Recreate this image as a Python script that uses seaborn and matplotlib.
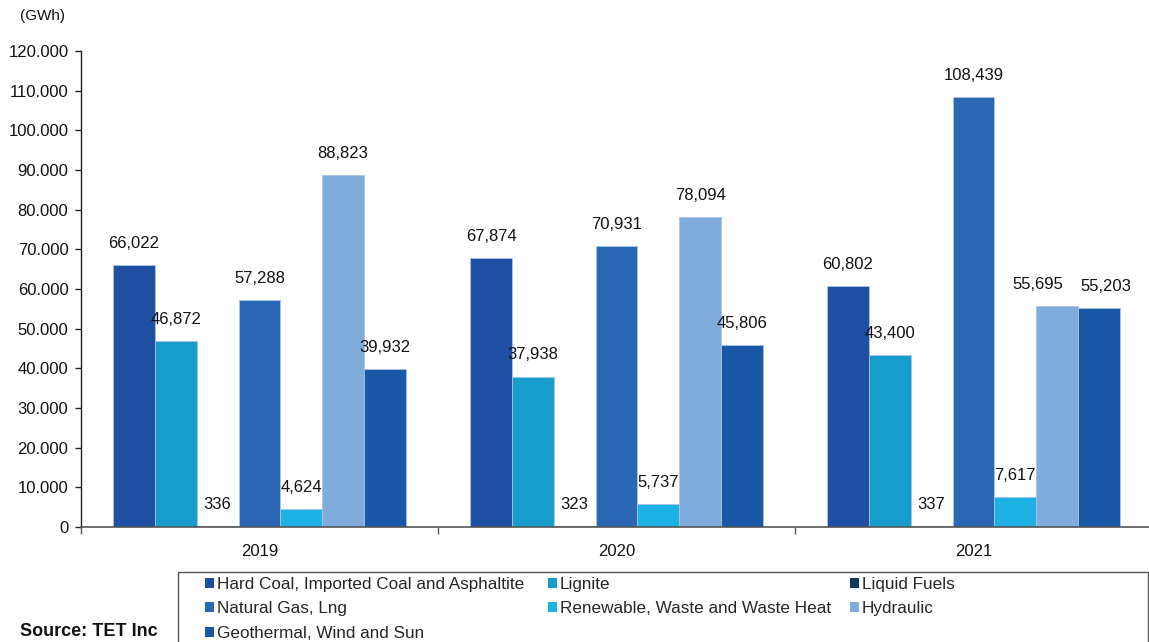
import matplotlib
matplotlib.use("Agg")
import matplotlib.pyplot as plt
from matplotlib.patches import Patch, Rectangle
from matplotlib.ticker import FuncFormatter, FixedLocator
import seaborn as sns
import pandas as pd

years = ["2019", "2020", "2021"]
sources = [
    "Hard Coal, Imported Coal and Asphaltite",
    "Lignite",
    "Liquid Fuels",
    "Natural Gas, Lng",
    "Renewable, Waste and Waste Heat",
    "Hydraulic",
    "Geothermal, Wind and Sun",
]
hard_coal = [66022, 67874, 60802]
lignite = [46872, 37938, 43400]
liquid_fuels = [336, 323, 337]
natural_gas = [57288, 70931, 108439]
renewable = [4624, 5737, 7617]
hydraulic = [88823, 78094, 55695]
geothermal = [39932, 45806, 55203]

colors = ["#1f4fa2", "#169dcc", "#0e3a60", "#2b68b3", "#1db1e4", "#80acdc", "#1957a7"]

series = [hard_coal, lignite, liquid_fuels, natural_gas, renewable, hydraulic, geothermal]
rows = []
for src, vals in zip(sources, series):
    for yr, v in zip(years, vals):
        rows.append({"year": yr, "source": src, "value": v})
df = pd.DataFrame(rows)

sns.set_theme(style="white")
plt.rcParams["font.family"] = ["Liberation Sans", "DejaVu Sans"]

W, H = 1149, 642
fig = plt.figure(figsize=(W / 100, H / 100), dpi=100)
ax = fig.add_axes([81 / W, 1 - 527 / H, 1071 / W, 476 / H])

sns.barplot(data=df, x="year", y="value", hue="source", hue_order=sources,
            order=years, palette=colors, saturation=1, width=0.82,
            linewidth=0.6, edgecolor="#a9c4e6", legend=False, ax=ax)

ax.set_xlim(-0.5, 2.5)
ax.set_ylim(0, 120000)
ax.set_yticks(range(0, 120001, 10000))
ax.yaxis.set_major_formatter(FuncFormatter(
    lambda v, p: "0" if v == 0 else f"{v:,.0f}".replace(",", ".")))
ax.set_xlabel("")
ax.set_ylabel("")

for sp in ["top", "right"]:
    ax.spines[sp].set_visible(False)
ax.spines["left"].set_color("#222222")
ax.spines["left"].set_linewidth(1.0)
ax.spines["bottom"].set_color("#555555")
ax.spines["bottom"].set_linewidth(1.2)

ax.tick_params(axis="y", direction="out", length=4, width=1, color="#222222",
               labelsize=12, labelcolor="#111111", pad=5, left=True)
ax.tick_params(axis="x", which="major", length=0, labelsize=12,
               labelcolor="#111111", pad=12, bottom=True)
ax.xaxis.set_minor_locator(FixedLocator([-0.5, 0.5, 1.5, 2.5]))
ax.tick_params(axis="x", which="minor", direction="out", length=5, width=1,
               color="#555555", bottom=True)

# Value labels; the two close 2021 labels are nudged apart horizontally
nudge = {("Hydraulic", 2): -19, ("Geothermal, Wind and Sun", 2): 7}
for src, cont in zip(sources, ax.containers):
    for i, bar in enumerate(cont):
        v = bar.get_height()
        cx = bar.get_x() + bar.get_width() / 2
        dx = nudge.get((src, i), 0)
        ax.annotate(f"{v:,.0f}", (cx, v), xytext=(dx * 0.72, 15.5),
                    textcoords="offset points", ha="center", va="center",
                    fontsize=12, color="#111111", annotation_clip=False)

fig.text(20 / W, 1 - 16 / H, "(GWh)", fontsize=11, color="#111111",
         ha="left", va="center")
fig.text(20 / W, 1 - 631 / H, "Source: TET Inc", fontsize=13, fontweight="bold",
         color="#111111", ha="left", va="center")

# Legend box
fig.patches.append(Rectangle((178 / W, -0.02), (1148 - 178) / W, (642 - 572) / H + 0.02,
                             transform=fig.transFigure, fill=False,
                             edgecolor="#555555", linewidth=1.0))

handles = [Patch(facecolor=c, edgecolor="none", label=s) for c, s in zip(colors, sources)]
col_groups = [[0, 3, 6], [1, 4], [2, 5]]
col_x = [205, 548, 850]
for grp, x in zip(col_groups, col_x):
    fig.legend(handles=[handles[k] for k in grp], loc="upper left",
               bbox_to_anchor=(x / W, 1 - 577 / H), frameon=False,
               prop={"size": 12.3},
               handlelength=0.55, handleheight=0.55, handletextpad=0.15,
               labelspacing=0.55, borderpad=0.0, borderaxespad=0.0)

fig.savefig("out.png", dpi=100)
